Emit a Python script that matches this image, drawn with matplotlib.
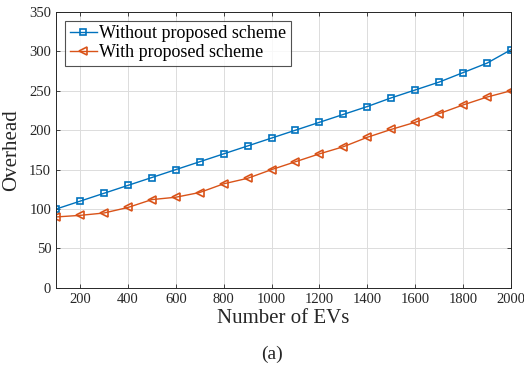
import matplotlib
matplotlib.use("Agg")
import matplotlib.pyplot as plt

plt.rcParams["font.family"] = ["Liberation Serif", "DejaVu Serif"]

num_evs = [100, 200, 300, 400, 500, 600, 700, 800, 900, 1000,
           1100, 1200, 1300, 1400, 1500, 1600, 1700, 1800, 1900, 2000]
without_scheme = [100, 110, 120, 130, 140, 150, 160, 170, 180, 190,
                  200, 210, 220, 230, 241, 251, 261, 273, 285, 302]
with_scheme = [90, 92, 95, 102, 112, 115, 121, 132, 139, 150,
               160, 170, 179, 191, 201, 210, 221, 232, 242, 250]
x_ticks = [200, 400, 600, 800, 1000, 1200, 1400, 1600, 1800, 2000]
y_ticks = [0, 50, 100, 150, 200, 250, 300, 350]

fig = plt.figure(figsize=(5.24, 3.72), dpi=100)
ax = fig.add_axes([0.107, 0.226, 0.868, 0.742])

ax.plot(num_evs, without_scheme, color="#0072BD", marker="s", markersize=5,
        markerfacecolor="none", markeredgewidth=1.2, linewidth=1.0,
        label="Without proposed scheme")
ax.plot(num_evs, with_scheme, color="#D95319", marker="<", markersize=5.5,
        markerfacecolor="none", markeredgewidth=1.2, linewidth=1.0,
        label="With proposed scheme")

ax.set_xlim(100, 2000)
ax.set_ylim(0, 350)
ax.set_xticks(x_ticks)
ax.set_yticks(y_ticks)
ax.tick_params(direction="in", top=True, right=True, labelsize=10.5,
               length=3, width=0.6, colors="#262626")
ax.grid(True, color="#dcdcdc", linewidth=0.7)
ax.set_axisbelow(True)
for s in ax.spines.values():
    s.set_color("#262626")
    s.set_linewidth(0.7)

ax.set_xlabel("Number of EVs", fontsize=15, color="#262626", labelpad=2)
ax.set_ylabel("Overhead", fontsize=15, color="#262626", labelpad=6)

leg = ax.legend(loc="upper left", fontsize=13, frameon=True, fancybox=False,
                borderpad=0.25, labelspacing=0.1, handlelength=1.5,
                handletextpad=0.15, borderaxespad=0.5)
leg.get_frame().set_edgecolor("#262626")
leg.get_frame().set_linewidth(0.8)

fig.text(0.52, 0.035, "(a)", ha="center", fontsize=14, color="#262626")

fig.savefig("out.png", dpi=100)
